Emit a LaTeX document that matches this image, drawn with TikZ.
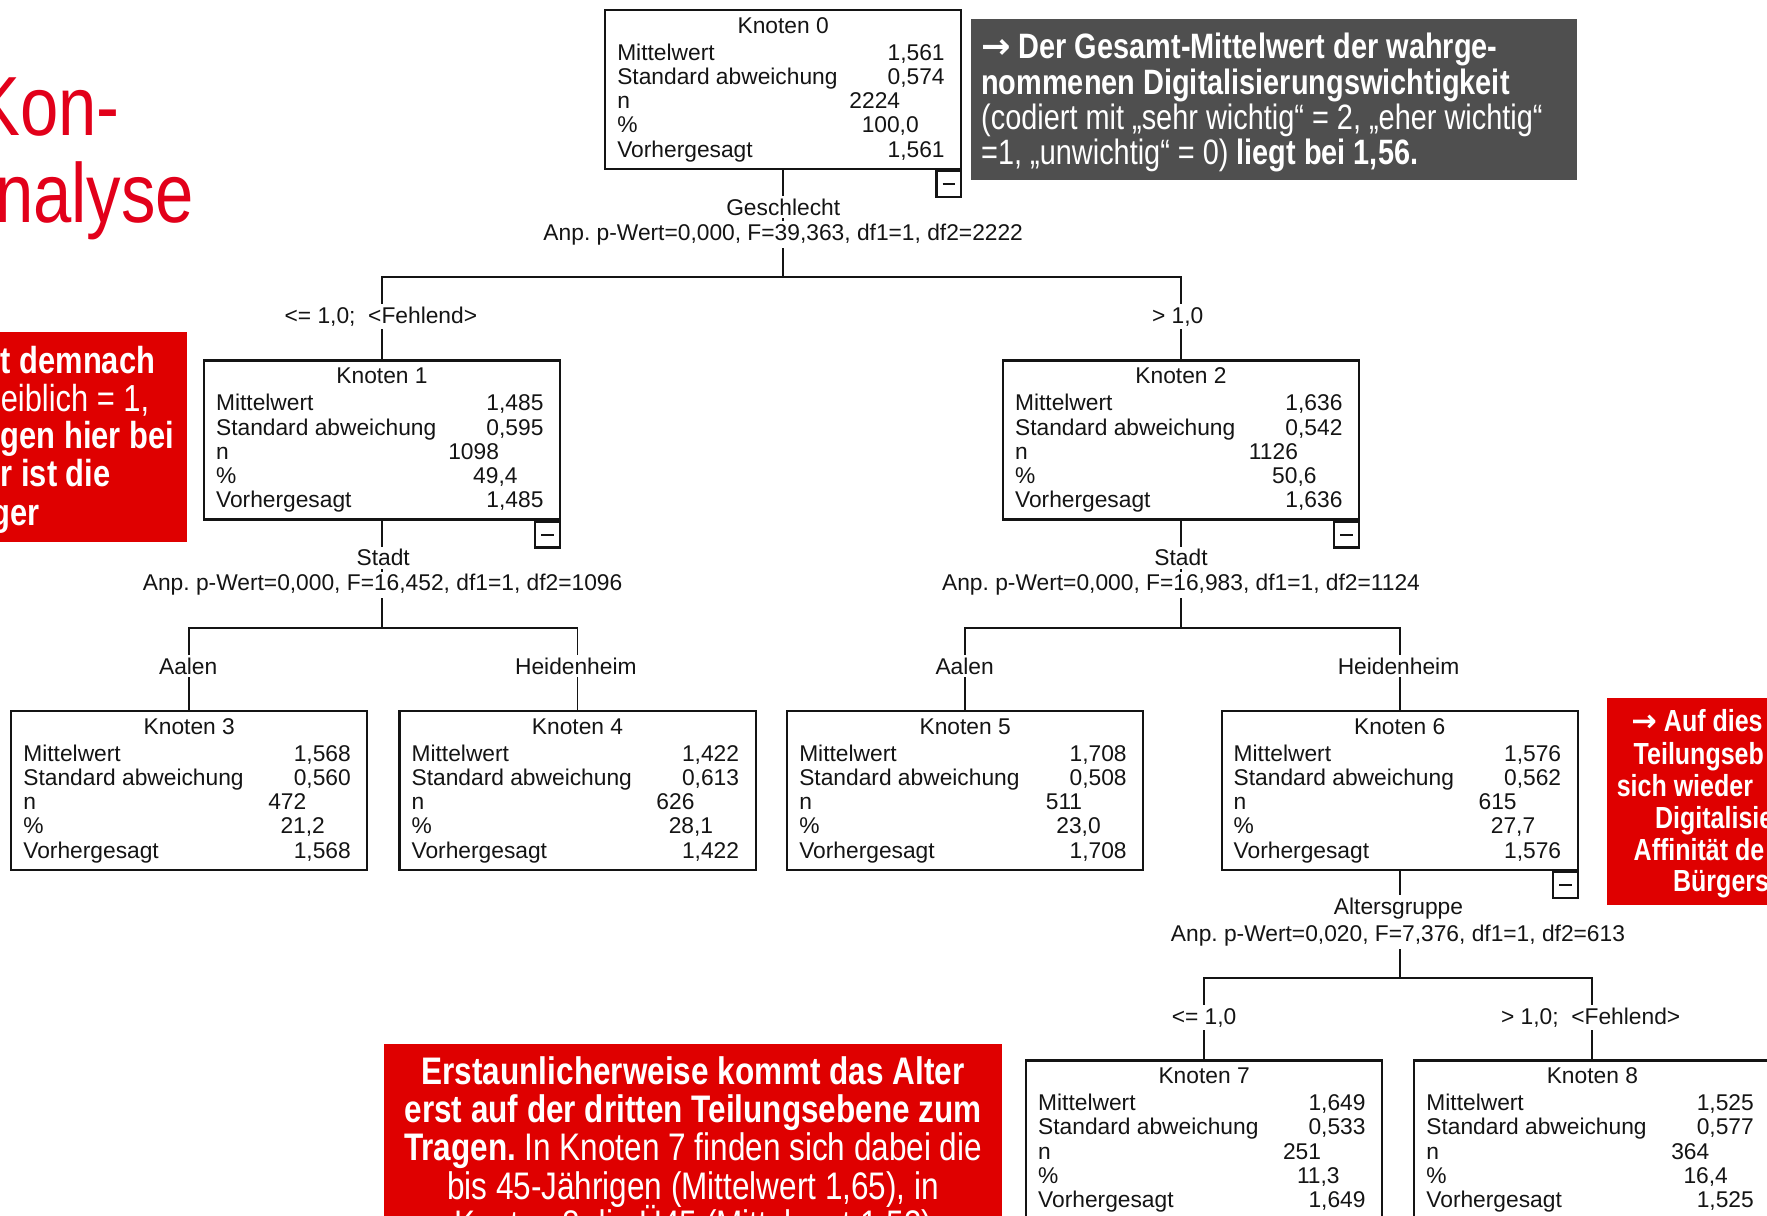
\documentclass[tikz,border=0pt]{standalone}
\usepackage{fontspec}
\setmainfont{Liberation Sans}
\newfontfamily\narrowfont[FakeStretch=0.82]{Liberation Sans}
\newfontfamily\arrowfont{DejaVu Sans}
\usetikzlibrary{positioning,calc}
\definecolor{slidered}{HTML}{E2001A}
\definecolor{notered}{HTML}{DF0000}
\definecolor{notegrey}{HTML}{4F4F4F}
\definecolor{treeink}{HTML}{141414}
\newcommand{\treefont}{\fontsize{5.75}{7}\selectfont}
\frenchspacing
\tikzset{
  kbox/.style={draw=treeink, line width=0.55pt, minimum width=31.6mm, minimum height=14.1mm, inner sep=0pt, anchor=north},
  ktx/.style={font=\treefont, text=treeink, inner sep=0pt},
  klbl/.style={font=\treefont, text=treeink, inner sep=0.7pt, fill=white},
  minus/.style={draw=treeink, line width=0.55pt, minimum width=2.2mm, minimum height=2.3mm, inner sep=0pt, anchor=north east},
  tree/.style={treeink, line width=0.45pt},
  note/.style={text=white, inner sep=0pt, anchor=base west},
}
% one SPSS tree node: name, x, top, number, mean, sd, n, percent
\newcommand{\knoten}[8]{%
  \node[kbox] (#1) at (#2,#3) {};
  \node[ktx, anchor=base] (#1h) at ($(#1.north)+(0,-0.215)$) {Knoten #4};
  \foreach \lb/\dy/\ix in {Mittelwert/0.455/a, Standard abweichung/0.67/b, n/0.885/c, \%/1.10/d, Vorhergesagt/1.315/e}
    \node[ktx, anchor=base west] (#1\ix) at ($(#1.north west)+(0.11,-\dy)$) {\lb};
  \node[ktx, anchor=base east] (#1va) at ($(#1.north east)+(-0.15,-0.455)$) {#5};
  \node[ktx, anchor=base east] (#1vb) at ($(#1.north east)+(-0.15,-0.67)$) {#6};
  \node[ktx, anchor=base east] (#1vc) at ($(#1.north east)+(-0.545,-0.885)$) {#7};
  \node[ktx, anchor=base east] (#1vd) at ($(#1.north east)+(-0.38,-1.10)$) {#8};
  \node[ktx, anchor=base east] (#1ve) at ($(#1.north east)+(-0.15,-1.315)$) {#5};
}
% collapse box under a split node
\newcommand{\zu}[1]{%
  \node[minus] (#1m) at (#1.south east) {};
  \draw[tree] ([xshift=-0.055cm]#1m.center) -- ([xshift=0.055cm]#1m.center);
}

\begin{document}
\begin{tikzpicture}
  \useasboundingbox (0,0) rectangle (15.68,-10.79);
  \clip (0,0) rectangle (15.68,-10.79);

  % slide title (cut at the left)
  \node[anchor=base east, font=\narrowfont\fontsize{21.2}{22}\selectfont, text=slidered, inner sep=0pt] (tit1) at (1.07,-1.20) {Kon-};
  \node[anchor=base east, font=\narrowfont\fontsize{21.2}{22}\selectfont, text=slidered, inner sep=0pt] (tit2) at (1.73,-1.97) {nalyse};

  % tree nodes
  \knoten{k0}{6.95}{-0.08}{0}{1,561}{0,574}{2224}{100,0}
  \knoten{k1}{3.39}{-3.19}{1}{1,485}{0,595}{1098}{49,4}
  \knoten{k2}{10.48}{-3.19}{2}{1,636}{0,542}{1126}{50,6}
  \knoten{k3}{1.68}{-6.30}{3}{1,568}{0,560}{472}{21,2}
  \knoten{k4}{5.125}{-6.30}{4}{1,422}{0,613}{626}{28,1}
  \knoten{k5}{8.565}{-6.30}{5}{1,708}{0,508}{511}{23,0}
  \knoten{k6}{12.42}{-6.30}{6}{1,576}{0,562}{615}{27,7}
  \knoten{k7}{10.685}{-9.40}{7}{1,649}{0,533}{251}{11,3}
  \knoten{k8}{14.13}{-9.40}{8}{1,525}{0,577}{364}{16,4}
  \foreach \nm in {k0,k1,k2,k6} {\zu{\nm}}

  % connectors
  \coordinate (s0) at (6.95,-2.46);
  \coordinate (s1) at (3.39,-5.57);
  \coordinate (s2) at (10.48,-5.57);
  \coordinate (s6) at (12.42,-8.68);
  \draw[tree] (k0.south) -- (s0);
  \draw[tree] (k1.north) |- (s0) -| (k2.north);
  \draw[tree] (k1.south) -- (s1);
  \draw[tree] (k3.north) |- (s1) -| (k4.north);
  \draw[tree] (k2.south) -- (s2);
  \draw[tree] (k5.north) |- (s2) -| (k6.north);
  \draw[tree] (k6.south) -- (s6);
  \draw[tree] (k7.north) |- (s6) -| (k8.north);

  % split and branch labels
  \node[klbl] (v0) at (6.95,-1.84) {Geschlecht};
  \node[klbl] (p0) at (6.95,-2.08) {Anp. p-Wert=0,000, F=39,363, df1=1, df2=2222};
  \node[klbl] (e1) at (3.38,-2.81) {<= 1,0;~~<Fehlend>};
  \node[klbl] (e2) at (10.45,-2.81) {> 1,0};
  \node[klbl] (v1) at (3.40,-4.95) {Stadt};
  \node[klbl] (p1) at (3.395,-5.19) {Anp. p-Wert=0,000, F=16,452, df1=1, df2=1096};
  \node[klbl] (v2) at (10.48,-4.95) {Stadt};
  \node[klbl] (p2) at (10.48,-5.19) {Anp. p-Wert=0,000, F=16,983, df1=1, df2=1124};
  \node[klbl] (e3) at (1.67,-5.91) {Aalen};
  \node[klbl] (e4) at (5.11,-5.91) {Heidenheim};
  \node[klbl] (e5) at (8.56,-5.91) {Aalen};
  \node[klbl] (e6) at (12.41,-5.91) {Heidenheim};
  \node[klbl] (v6) at (12.41,-8.06) {Altersgruppe};
  \node[klbl] (p6) at (12.405,-8.30) {Anp. p-Wert=0,020, F=7,376, df1=1, df2=613};
  \node[klbl] (e7) at (10.685,-9.03) {<= 1,0};
  \node[klbl] (e8) at (14.115,-9.03) {> 1,0;~~<Fehlend>};

  % grey note
  \fill[notegrey] (8.62,-0.17) rectangle (13.99,-1.60);
  \foreach \nm/\y/\tx in {g1/0.52/{{\arrowfont\bfseries →} \bfseries Der Gesamt-Mittelwert der wahrge-},
                         g2/0.84/{\bfseries nommenen Digitalisierungswichtigkeit},
                         g3/1.15/{(codiert mit „sehr wichtig“ = 2, „eher wichtig“},
                         g4/1.46/{=1, „unwichtig“ = 0) \textbf{liegt bei 1,56.}}}
    \node[note, font=\narrowfont\fontsize{8.9}{9}\selectfont] (\nm) at (8.70,-\y) {\tx};

  % red note, left
  \fill[notered] (-0.1,-2.95) rectangle (1.66,-4.81);
  \foreach \nm/\x/\y/\tx in {l1/0.0/3.31/{\bfseries t demnach}, l2/0.0/3.65/{eiblich = 1,},
                            l3/0.0/3.98/{\bfseries gen hier bei}, l4/0.0/4.32/{\bfseries r ist die},
                            l5/-0.08/4.66/{\bfseries ger}}
    \node[note, font=\narrowfont\fontsize{9.5}{10}\selectfont] (\nm) at (\x,-\y) {\tx};

  % red note, right
  \fill[notered] (14.26,-6.19) rectangle (15.8,-8.03);
  \foreach \nm/\x/\y/\tx in {r1/14.47/6.495/{{\arrowfont →} Auf dies}, r2/14.49/6.785/{Teilungseb},
                            r3/14.34/7.065/{sich wieder}, r4/14.68/7.355/{Digitalisie},
                            r5/14.49/7.635/{Affinität de}, r6/14.84/7.915/{Bürgers}}
    \node[note, font=\narrowfont\bfseries\fontsize{7.7}{8}\selectfont] (\nm) at (\x,-\y) {\tx};

  % red note, bottom
  \fill[notered] (3.41,-9.26) rectangle (8.89,-11.2);
  \foreach \nm/\y/\tx in {b1/9.62/{\bfseries Erstaunlicherweise kommt das Alter},
                         b2/9.96/{\bfseries erst auf der dritten Teilungsebene zum},
                         b3/10.30/{\textbf{Tragen.} In Knoten 7 finden sich dabei die},
                         b4/10.64/{bis 45-Jährigen (Mittelwert 1,65), in},
                         b5/10.98/{Knoten 8 die Ü45 (Mittelwert 1,53)}}
    \node[note, anchor=base, font=\narrowfont\fontsize{9.7}{10}\selectfont] (\nm) at (6.15,-\y) {\tx};
\end{tikzpicture}
\end{document}
